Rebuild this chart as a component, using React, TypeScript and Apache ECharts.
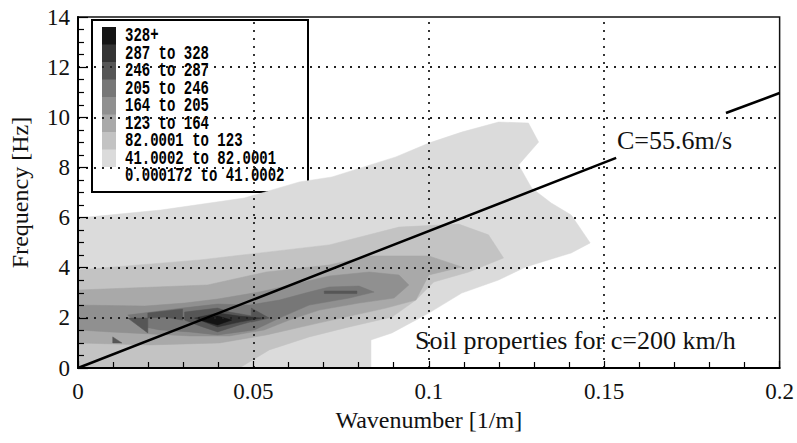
import React, { useEffect, useRef } from "react";
import * as echarts from "echarts";

// ---- Legend (darkest first) ----
const legendLabels = [
  "328+",
  "287 to 328",
  "246 to 287",
  "205 to 246",
  "164 to 205",
  "123 to 164",
  "82.0001 to 123",
  "41.0002 to 82.0001",
  "0.000172 to 41.0002",
];
const levelColors = ["#141414", "#343434", "#565656", "#777777", "#909090", "#a9a9a9", "#c3c3c3", "#dbdbdb", "#ffffff"];

// ---- Contour regions, [wavenumber 1/m, frequency Hz] ----
const region41 = [[0, 0], [0, 5.98], [0.0236, 6.3], [0.0474, 6.78], [0.0631, 7.42], [0.0724, 7.62], [0.0906, 8.42], [0.1, 8.97], [0.1094, 9.41], [0.1199, 9.81], [0.1284, 9.77], [0.1313, 9.01], [0.1256, 8.1], [0.1293, 7.18], [0.1349, 6.58], [0.1406, 6.1], [0.146, 4.99], [0.1406, 4.59], [0.1276, 4.03], [0.1199, 3.51], [0.1094, 2.99], [0.1, 2.19], [0.0895, 1.4], [0.0835, 1.12], [0.0835, 0]];
const region82 = [[0, 3.91], [0.0347, 4.31], [0.0716, 4.91], [0.0915, 5.62], [0.1085, 5.74], [0.117, 5.31], [0.1213, 4.39], [0.1114, 3.83], [0.1014, 3.43], [0.0963, 2.71], [0.0895, 2.03], [0.0773, 1.64], [0.0659, 1.24], [0.0545, 0.72], [0.046, 0], [0, 0]];
const region123 = [[0, 3.11], [0.0369, 3.31], [0.0537, 3.83], [0.0716, 4.11], [0.083, 4.47], [0.1, 4.47], [0.1094, 4.03], [0.1, 3.71], [0.0963, 2.71], [0.0878, 2.39], [0.0688, 1.8], [0.0537, 1.32], [0.0403, 1.0], [0.0205, 0.92], [0, 1.0]];
const region164 = [[0, 2.51], [0.019, 2.47], [0.0304, 2.59], [0.0398, 2.75], [0.0517, 3.03], [0.0631, 3.39], [0.0716, 3.67], [0.083, 3.83], [0.0915, 3.71], [0.0943, 3.31], [0.0901, 2.79], [0.0801, 2.59], [0.0688, 2.31], [0.0602, 1.91], [0.0531, 1.52], [0.0432, 1.28], [0.0318, 1.28], [0.0205, 1.36], [0.0091, 1.44], [0, 1.52]];
const region205 = [[0.0142, 2.11], [0.0298, 2.39], [0.0398, 2.55], [0.0489, 2.51], [0.0574, 2.71], [0.0659, 3.03], [0.0716, 3.23], [0.0801, 3.27], [0.0844, 3.03], [0.0773, 2.79], [0.0659, 2.51], [0.0574, 1.99], [0.0503, 1.52], [0.0398, 1.32], [0.0318, 1.44], [0.0233, 1.52], [0.0176, 1.68]];
const region246a = [[0.0142, 1.99], [0.0199, 1.99], [0.0199, 1.4]];
const region246b = [[0.0199, 2.19], [0.0298, 2.35], [0.0298, 1.91], [0.0247, 2.03], [0.0199, 1.99]];
const region246c = [[0.0304, 2.23], [0.0398, 2.39], [0.0432, 2.23], [0.0531, 1.99], [0.046, 1.72], [0.0398, 1.44], [0.0347, 1.68], [0.0304, 1.91]];
const region246d = [[0.0494, 2.39], [0.0545, 1.99], [0.0494, 1.83]];
const region246e = [[0.0099, 1.24], [0.0125, 1.0], [0.0099, 1.0]];
const region246f = [[0.0702, 3.07], [0.0795, 3.07], [0.0795, 2.97], [0.0702, 2.97]];
const region287 = [[0.0332, 1.99], [0.0398, 2.19], [0.046, 2.07], [0.0523, 1.99], [0.046, 1.83], [0.0398, 1.64]];
const region328 = [[0.0347, 1.91], [0.0398, 2.07], [0.0438, 1.91], [0.0398, 1.72]];

// level index into legend / colour list
const contourRegions = [
  { level: 7, pts: region41 },
  { level: 6, pts: region82 },
  { level: 5, pts: region123 },
  { level: 4, pts: region164 },
  { level: 3, pts: region205 },
  { level: 2, pts: region246a },
  { level: 2, pts: region246b },
  { level: 2, pts: region246c },
  { level: 2, pts: region246d },
  { level: 2, pts: region246e },
  { level: 2, pts: region246f },
  { level: 1, pts: region287 },
  { level: 0, pts: region328 },
];

// ---- Wave speed line C=55.6 m/s (broken around its label) ----
const cLineLower = [[0, 0], [0.1534, 8.38]];
const cLineUpper = [[0.1847, 10.17], [0.2, 10.97]];

// ---- Grid lines ----
const gridK = [0.05, 0.1, 0.15];
const gridF = [2, 4, 6, 8, 10, 12];

const SERIF = "'Liberation Serif', 'DejaVu Serif', serif";
const MONO = "'Liberation Mono', 'DejaVu Sans Mono', monospace";

export default function App() {
  const ref = useRef<HTMLDivElement>(null);

  useEffect(() => {
    if (!ref.current) return;
    const chart = echarts.init(ref.current, null, { renderer: "svg" });

    const legendX = 92;
    const legendY = 20;
    const rowH = 17.5;
    const legendChildren: any[] = [
      {
        type: "rect",
        shape: { x: legendX, y: legendY, width: 216, height: 172 },
        style: { fill: "#fff", stroke: "#000", lineWidth: 2 },
      },
    ];
    legendLabels.forEach((lab, i) => {
      legendChildren.push({
        type: "rect",
        shape: { x: 102, y: 27 + i * rowH, width: 14, height: rowH + 0.5 },
        style: { fill: levelColors[i] },
      });
      legendChildren.push({
        type: "text",
        x: 125,
        y: 36 + i * rowH,
        scaleX: 0.7,
        style: {
          text: lab,
          font: `bold 20px ${MONO}`,
          fill: "#000",
          verticalAlign: "middle",
          align: "left",
        },
      });
    });

    const option: any = {
      animation: false,
      backgroundColor: "#fff",
      grid: {
        left: 78,
        right: 15,
        top: 17,
        bottom: 75,
        show: true,
        borderColor: "#111",
        borderWidth: 1.5,
        backgroundColor: "transparent",
      },
      xAxis: {
        type: "value",
        min: 0,
        max: 0.2,
        interval: 0.05,
        z: 10,
        name: "Wavenumber [1/m]",
        nameLocation: "middle",
        nameGap: 32,
        nameTextStyle: { fontFamily: SERIF, fontSize: 24, color: "#111" },
        axisLine: { show: true, lineStyle: { color: "#000", width: 2 } },
        axisTick: { show: true, inside: true, length: 7, lineStyle: { color: "#000", width: 1.2 } },
        minorTick: { show: true, splitNumber: 5, length: 6, lineStyle: { color: "#000", width: 1.2 } },
        axisLabel: { fontFamily: SERIF, fontSize: 23, color: "#111", margin: 12 },
        splitLine: { show: false },
      },
      yAxis: {
        type: "value",
        min: 0,
        max: 14,
        interval: 2,
        z: 10,
        name: "Frequency [Hz]",
        nameLocation: "middle",
        nameGap: 46,
        nameRotate: 90,
        nameTextStyle: { fontFamily: SERIF, fontSize: 24, color: "#111" },
        axisLine: { show: true, lineStyle: { color: "#000", width: 2 } },
        axisTick: { show: true, inside: true, length: 10, lineStyle: { color: "#000", width: 1.2 } },
        minorTick: { show: true, splitNumber: 4, length: 6, lineStyle: { color: "#000", width: 1.2 } },
        axisLabel: { fontFamily: SERIF, fontSize: 23, color: "#111", margin: 8 },
        splitLine: { show: false },
      },
      series: [
        {
          type: "custom",
          coordinateSystem: "cartesian2d",
          clip: true,
          z: 2,
          silent: true,
          data: contourRegions.map((r) => r.pts[0]),
          renderItem: (params: any, api: any) => {
            const reg = contourRegions[params.dataIndex];
            const points = reg.pts.map((p) => api.coord(p));
            const c = levelColors[reg.level];
            return {
              type: "polygon",
              shape: { points },
              style: { fill: c, stroke: c, lineWidth: 0.5 },
            };
          },
        },
        {
          type: "line",
          data: [[0, 0]],
          symbol: "none",
          lineStyle: { opacity: 0 },
          z: 4,
          silent: true,
          markLine: {
            silent: true,
            symbol: ["none", "none"],
            label: { show: false },
            animation: false,
            lineStyle: { color: "#222", type: [2, 6], width: 1.8 },
            data: [
              ...gridK.map((k) => ({ xAxis: k })),
              ...gridF.map((f) => ({ yAxis: f })),
            ],
          },
        },
        {
          type: "line",
          data: cLineLower,
          symbol: "none",
          z: 6,
          lineStyle: { color: "#000", width: 2.5 },
        },
        {
          type: "line",
          data: cLineUpper,
          symbol: "none",
          z: 6,
          lineStyle: { color: "#000", width: 2.5 },
        },
      ],
      graphic: [
        { type: "group", z: 100, children: legendChildren },
        {
          type: "text",
          z: 100,
          x: 617,
          y: 140,
          style: { text: "C=55.6m/s", font: `26px ${SERIF}`, fill: "#111", verticalAlign: "middle", align: "left" },
        },
        {
          type: "text",
          z: 100,
          x: 415,
          y: 340,
          style: { text: "Soil properties for c=200 km/h", font: `26px ${SERIF}`, fill: "#111", verticalAlign: "middle", align: "left" },
        },
      ],
    };

    chart.setOption(option);
    return () => chart.dispose();
  }, []);

  return (
    <div
      ref={ref}
      style={{ position: "absolute", left: 0, top: 0, width: 797, height: 443, background: "#fff" }}
    />
  );
}
